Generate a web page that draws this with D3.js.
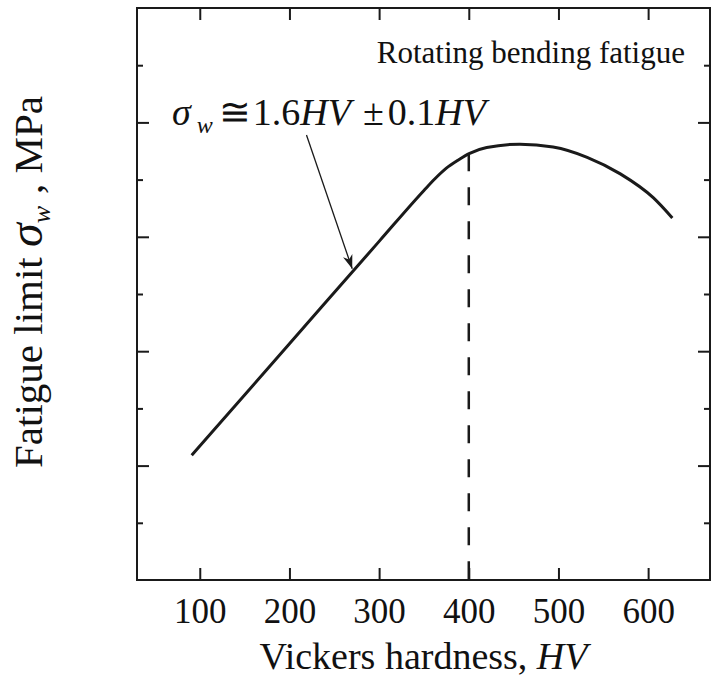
<!DOCTYPE html>
<html>
<head>
<meta charset="utf-8">
<title>Fatigue limit vs Vickers hardness</title>
<script src="https://cdn.jsdelivr.net/npm/d3@7"></script>
<style>
  body { margin: 0; background: #fff; }
  text { font-family: "Liberation Serif", "Times New Roman", serif; fill: #111; }
</style>
</head>
<body>
<div id="chart"></div>
<script>
// data (HV, MPa)
var hardness = [91, 200, 300, 350, 362, 375, 388, 401, 420, 457, 494, 532, 569, 606, 627];
var fatigue  = [218, 413, 592, 681, 701, 720, 734, 746, 756, 762, 757, 739, 710, 668, 633];
var xTicks = [100, 200, 300, 400, 500, 600];
var yTicks = [100, 200, 300, 400, 500, 600, 700, 800, 900];
var dashHV = 400, dashTop = 746;
var arrowFrom = [219, 778], arrowTo = [270, 544];

var W = 711, H = 677;
var mL = 137, mR = 710, mT = 8, mB = 580;

var svg = d3.select('#chart').append('svg')
  .attr('width', W).attr('height', H);

var x = d3.scaleLinear().domain([30, 669]).range([mL, mR]);
var y = d3.scaleLinear().domain([0, 1000]).range([mB, mT]);

var ink = '#1a1a1a';

// frame
svg.append('rect')
  .attr('x', mL).attr('y', mT)
  .attr('width', mR - mL).attr('height', mB - mT)
  .attr('fill', 'none').attr('stroke', ink).attr('stroke-width', 2);

function tickLen(v){ return v % 200 === 0 ? 12 : 6; }

// bottom axis
var gx = svg.append('g').attr('transform', 'translate(0,' + mB + ')')
  .call(d3.axisBottom(x).tickValues(xTicks).tickSize(-12).tickFormat(d3.format('d')));
gx.select('.domain').remove();
gx.selectAll('line').attr('stroke', ink).attr('stroke-width', 2);
gx.selectAll('text').attr('y', 43).attr('dy', null)
  .style('font-size', '35px').style('font-family', '"Liberation Serif", serif').attr('fill', '#111');

// top axis (no labels)
var gt = svg.append('g').attr('transform', 'translate(0,' + mT + ')')
  .call(d3.axisTop(x).tickValues(xTicks).tickSize(-12).tickFormat(''));
gt.select('.domain').remove();
gt.selectAll('line').attr('stroke', ink).attr('stroke-width', 2);

// left axis
var gl = svg.append('g').attr('transform', 'translate(' + mL + ',0)')
  .call(d3.axisLeft(y).tickValues(yTicks).tickFormat(''));
gl.select('.domain').remove();
gl.selectAll('.tick line').attr('x2', function(d){ return tickLen(d); })
  .attr('stroke', ink).attr('stroke-width', 2);

// right axis
var gr = svg.append('g').attr('transform', 'translate(' + mR + ',0)')
  .call(d3.axisRight(y).tickValues(yTicks).tickFormat(''));
gr.select('.domain').remove();
gr.selectAll('.tick line').attr('x2', function(d){ return -tickLen(d); })
  .attr('stroke', ink).attr('stroke-width', 2);

// dashed line at HV 400
svg.append('line')
  .attr('x1', x(dashHV)).attr('x2', x(dashHV))
  .attr('y1', y(dashTop)).attr('y2', y(0))
  .attr('stroke', ink).attr('stroke-width', 2.5)
  .attr('stroke-dasharray', '18,16');

// curve
var pts = hardness.map(function(h, i){ return [h, fatigue[i]]; });
var line = d3.line()
  .x(function(d){ return x(d[0]); })
  .y(function(d){ return y(d[1]); })
  .curve(d3.curveMonotoneX);
svg.append('path').datum(pts)
  .attr('d', line)
  .attr('fill', 'none').attr('stroke', ink).attr('stroke-width', 3);

// arrow
svg.append('defs').append('marker')
  .attr('id', 'arr').attr('viewBox', '0 0 10 10')
  .attr('refX', 10).attr('refY', 5)
  .attr('markerWidth', 14).attr('markerHeight', 14)
  .attr('markerUnits', 'userSpaceOnUse')
  .attr('orient', 'auto')
  .append('path').attr('d', 'M0,1.5 L10,5 L0,8.5 L3,5 Z').attr('fill', ink);

svg.append('line')
  .attr('x1', x(arrowFrom[0])).attr('y1', y(arrowFrom[1]))
  .attr('x2', x(arrowTo[0])).attr('y2', y(arrowTo[1]))
  .attr('stroke', ink).attr('stroke-width', 1.3)
  .attr('marker-end', 'url(#arr)');

// formula
var f = svg.append('text').attr('x', 172).attr('y', 125).style('font-size', '38px');
f.append('tspan').style('font-style', 'italic').text('σ');
f.append('tspan').style('font-style', 'italic').style('font-size', '24px').attr('dx', 6).attr('dy', 8).text('w');
f.append('tspan').attr('dx', 6).attr('dy', -8).style('font-family', '"Liberation Serif", "DejaVu Serif", serif').text('≅');
f.append('tspan').attr('dx', 2).text('1.6');
f.append('tspan').style('font-style', 'italic').text('HV');
f.append('tspan').attr('dx', 12).text('±');
f.append('tspan').attr('dx', 4).text('0.1');
f.append('tspan').style('font-style', 'italic').text('HV');

// condition label
svg.append('text').attr('x', 685).attr('y', 63)
  .attr('text-anchor', 'end').style('font-size', '31px')
  .text('Rotating bending fatigue');

// x title
var xt = svg.append('text').attr('x', (mL + mR) / 2).attr('y', 669)
  .attr('text-anchor', 'middle').style('font-size', '38px');
xt.append('tspan').text('Vickers hardness, ');
xt.append('tspan').style('font-style', 'italic').text('HV');

// y title
var yt = svg.append('text')
  .attr('transform', 'translate(42,282) rotate(-90)')
  .attr('text-anchor', 'middle').style('font-size', '41px');
yt.append('tspan').text('Fatigue limit ');
yt.append('tspan').style('font-style', 'italic').style('font-size', '48px').text('σ');
yt.append('tspan').style('font-style', 'italic').style('font-size', '26px').attr('dy', 8).text('w');
yt.append('tspan').attr('dy', -8).attr('dx', 12).text(', MPa');
</script>
</body>
</html>
